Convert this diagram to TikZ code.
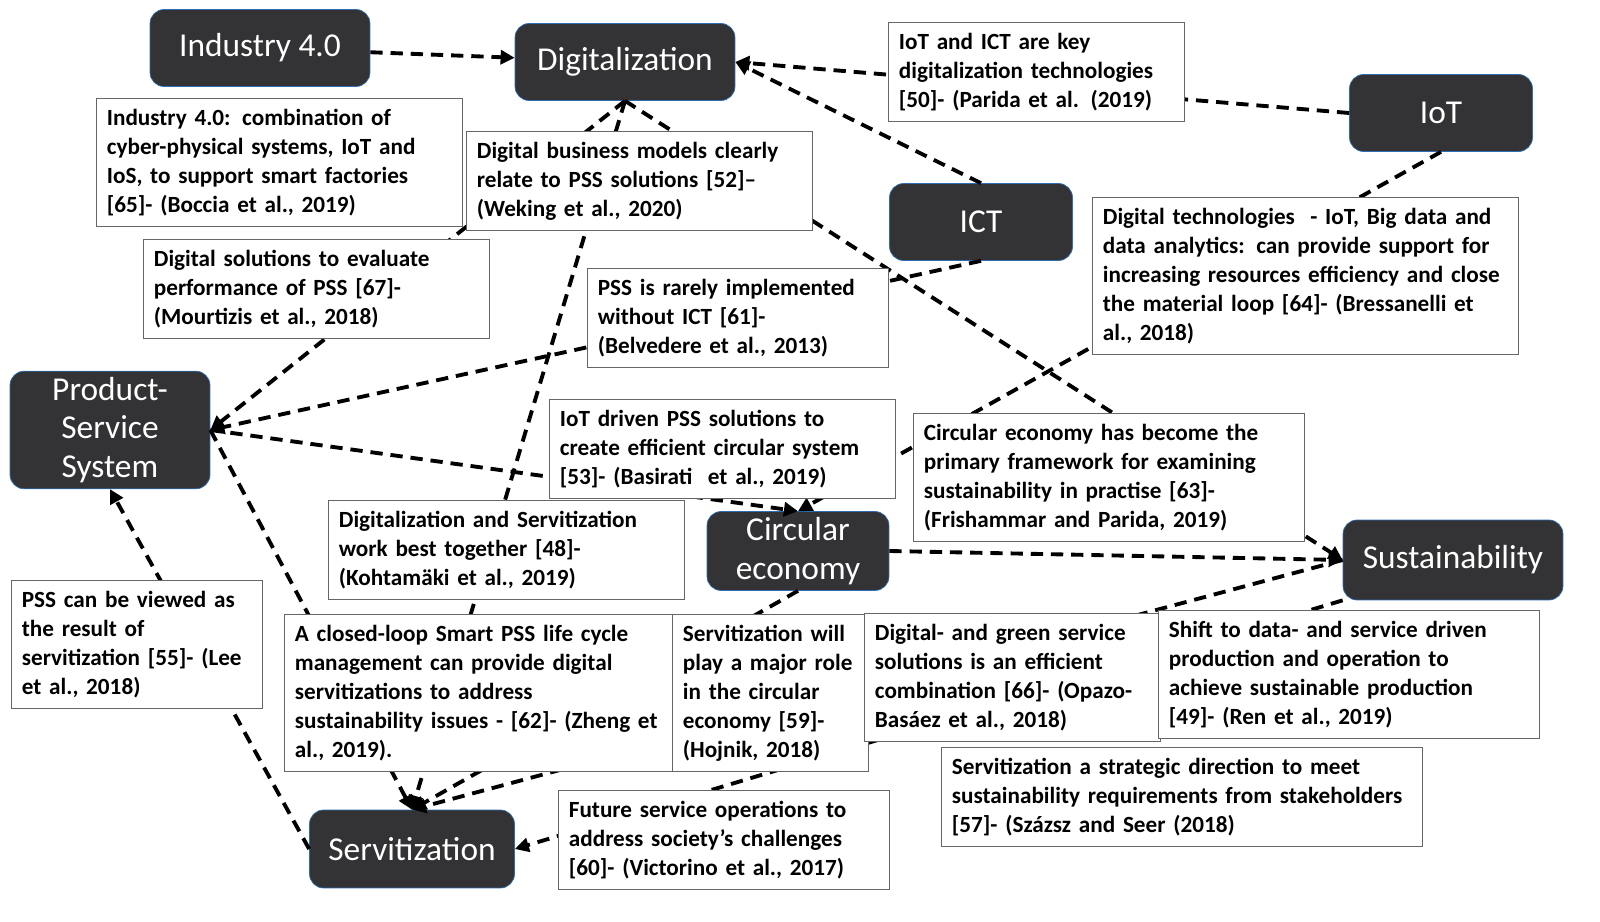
\documentclass[tikz,border=0pt]{standalone}
\usepackage{fontspec}
\setmainfont{Carlito}
\usetikzlibrary{arrows.meta}
\definecolor{boxdark}{HTML}{333335}
\definecolor{boxedge}{HTML}{2E6DB4}
\begin{document}
\begin{tikzpicture}[x=0.02cm,y=-0.02cm]
        \tikzset{concept/.style = {draw=boxedge,fill=boxdark,rounded corners=8pt,text=white,align=center,font=\fontsize{19}{22}\selectfont}}
        \tikzset{note/.style = {draw=black!60,fill=white,anchor=north west,align=left,inner sep=6pt,font=\bfseries\fontsize{13.2}{16.5}\selectfont}}
        \tikzset{link/.style = {line width=2.2pt,dash pattern=on 7pt off 4.5pt,-{Triangle[length=8pt,width=8pt]}}}
        \useasboundingbox (0,0) rectangle (1600,922);
        % concept nodes
        \node[concept,minimum width=4.4cm,minimum height=1.54cm] (ind) at (260,48) {Industry 4.0};
        \node[concept,minimum width=4.4cm,minimum height=1.54cm] (dig) at (625,62) {Digitalization};
        \node[concept,minimum width=3.66cm,minimum height=1.54cm] (iot) at (1441,113) {IoT};
        \node[concept,minimum width=3.66cm,minimum height=1.54cm] (ict) at (981,222) {ICT};
        \node[concept,minimum width=4cm,minimum height=2.32cm] (pss) at (110,430) {Product-\\Service\\System};
        \node[concept,minimum width=3.64cm,minimum height=1.56cm] (ce) at (798,551) {Circular\\economy};
        \node[concept,minimum width=4.4cm,minimum height=1.6cm] (sus) at (1453,560) {Sustainability};
        \node[concept,minimum width=4.1cm,minimum height=1.56cm] (ser) at (412,849) {Servitization};
        % dashed links
        \draw[link] (ind) -- (dig);
        \draw[link] (iot.west) -- (dig.east);
        \draw[link] (ict.north) -- (dig.east);
        \draw[link] (dig.south) -- (pss.east);
        \draw[link] (dig.south) -- (ser.north);
        \draw[link] (dig.south) -- (sus.west);
        \draw[link] (ict.south) -- (pss.east);
        \draw[link] (iot.south) -- (ce.north);
        \draw[link] (pss.east) -- (ce.north);
        \draw[link] (ce.east) -- (sus.west);
        \draw[link] (ce.south) -- (ser.north);
        \draw[link] (sus.west) -- (ser.north);
        \draw[link] (sus.south west) -- (ser.east);
        \draw[link] (pss.east) -- (ser.north);
        \draw[link] (ser.west) -- (pss.south);
        % literature notes
        \node[note,text width=5.5cm] (n50) at (888,22) {IoT and ICT are key\\digitalization technologies\\{[50]}- (Parida et al. (2019)};
        \node[note,text width=6.9cm] (n65) at (96,98) {Industry 4.0: combination of\\cyber-physical systems, IoT and\\IoS, to support smart factories\\{[65]}- (Boccia et al., 2019)};
        \node[note,text width=6.5cm] (n52) at (466,131) {Digital business models clearly\\relate to PSS solutions [52]--\\(Weking et al., 2020)};
        \node[note,text width=6.5cm] (n67) at (143,239) {Digital solutions to evaluate\\performance of PSS [67]-\\(Mourtizis et al., 2018)};
        \node[note,text width=5.6cm] (n61) at (587,268) {PSS is rarely implemented\\without ICT [61]-\\(Belvedere et al., 2013)};
        \node[note,text width=8.1cm] (n64) at (1092,197) {Digital technologies\ \ - IoT, Big data and\\data analytics: can provide support for\\increasing resources efficiency and close\\the material loop [64]- (Bressanelli et\\al., 2018)};
        \node[note,text width=6.5cm] (n53) at (549,399) {IoT driven PSS solutions to\\create efficient circular system\\{[53]}- (Basirati\ \ et al., 2019)};
        \node[note,text width=7.4cm] (n63) at (913,413) {Circular economy has become the\\primary framework for examining\\sustainability in practise [63]-\\(Frishammar and Parida, 2019)};
        \node[note,text width=6.7cm] (n48) at (328,500) {Digitalization and Servitization\\work best together [48]-\\(Kohtamäki et al., 2019)};
        \node[note,text width=4.6cm] (n55) at (11,580) {PSS can be viewed as\\the result of\\servitization [55]- (Lee\\et al., 2018)};
        \node[note,text width=7.4cm] (n62) at (284,614) {A closed-loop Smart PSS life cycle\\management can provide digital\\servitizations to address\\sustainability issues - [62]- (Zheng et\\al., 2019).};
        \node[note,text width=3.5cm] (n59) at (672,614) {Servitization will\\play a major role\\in the circular\\economy [59]-\\(Hojnik, 2018)};
        \node[note,text width=5.5cm] (n66) at (864,613) {Digital- and green service\\solutions is an efficient\\combination [66]- (Opazo-\\Basáez et al., 2018)};
        \node[note,text width=7.2cm] (n49) at (1158,610) {Shift to data- and service driven\\production and operation to\\achieve sustainable production\\{[49]}- (Ren et al., 2019)};
        \node[note,text width=9.2cm] (n57) at (941,747) {Servitization a strategic direction to meet\\sustainability requirements from stakeholders\\{[57]}- (Százsz and Seer (2018)};
        \node[note,text width=6.2cm] (n60) at (558,790) {Future service operations to\\address society’s challenges\\{[60]}- (Victorino et al., 2017)};
\end{tikzpicture}
\end{document}
